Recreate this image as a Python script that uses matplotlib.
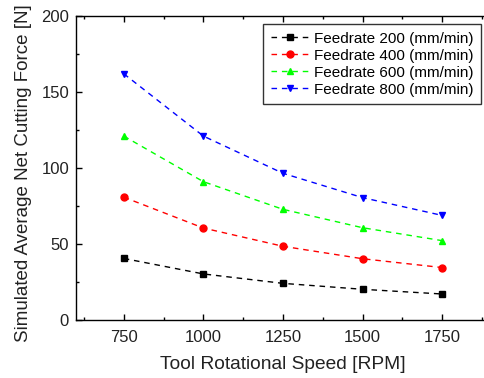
import matplotlib
matplotlib.use("Agg")
import matplotlib.pyplot as plt
from matplotlib.ticker import MultipleLocator

plt.rcParams['font.family'] = ['Liberation Sans', 'DejaVu Sans']

rpm = [750, 1000, 1250, 1500, 1750]
f200 = [40.5, 30.3, 24.1, 20.2, 17.1]
f400 = [80.8, 60.5, 48.5, 40.3, 34.5]
f600 = [121, 91, 72.8, 60.7, 52.2]
f800 = [162, 121, 96.5, 80.5, 68.8]
labels = ["Feedrate 200 (mm/min)", "Feedrate 400 (mm/min)",
          "Feedrate 600 (mm/min)", "Feedrate 800 (mm/min)"]

fig = plt.figure(figsize=(4.85, 3.78), dpi=100)
ax = fig.add_axes([76/485, 58/378, 414/485, 304/378])

series = [(f200, 'black', 's'), (f400, 'red', 'o'), (f600, '#00ff00', '^'), (f800, 'blue', 'v')]
for (vals, c, m), lab in zip(series, labels):
    ax.plot(rpm, vals, color=c, marker=m, markersize=5, linestyle=(0, (4, 3.5)),
            linewidth=1.0, label=lab)

ax.set_xlim(600, 1900)
ax.set_ylim(0, 200)
ax.set_xticks([750, 1000, 1250, 1500, 1750])
ax.set_yticks([0, 50, 100, 150, 200])
ax.xaxis.set_minor_locator(MultipleLocator(125))
ax.yaxis.set_minor_locator(MultipleLocator(25))
ax.tick_params(which='both', direction='in', top=True, right=True, labelsize=12, colors='black')
ax.tick_params(which='major', length=4, width=1)
ax.tick_params(which='minor', length=2.5, width=1)
ax.tick_params(axis='x', pad=7)
ax.tick_params(axis='y', pad=5)
ax.tick_params(axis='both', labelcolor='#222222')
for s in ax.spines.values():
    s.set_linewidth(1.0)

ax.set_xlabel("Tool Rotational Speed [RPM]", fontsize=13.8, color='#222222', labelpad=8)
ax.set_ylabel("Simulated Average Net Cutting Force [N]", fontsize=13.5, color='#222222')
ax.yaxis.set_label_coords(-44/414, 0.483)

leg = ax.legend(loc='upper right', bbox_to_anchor=((481-76)/414, (320-24)/304),
                borderaxespad=0, fontsize=11, frameon=True, fancybox=False,
                edgecolor='black', handlelength=2.5, handletextpad=0.3,
                labelspacing=0.2, borderpad=0.5)
leg.get_frame().set_linewidth(1.0)

fig.savefig("out.png", dpi=100)
